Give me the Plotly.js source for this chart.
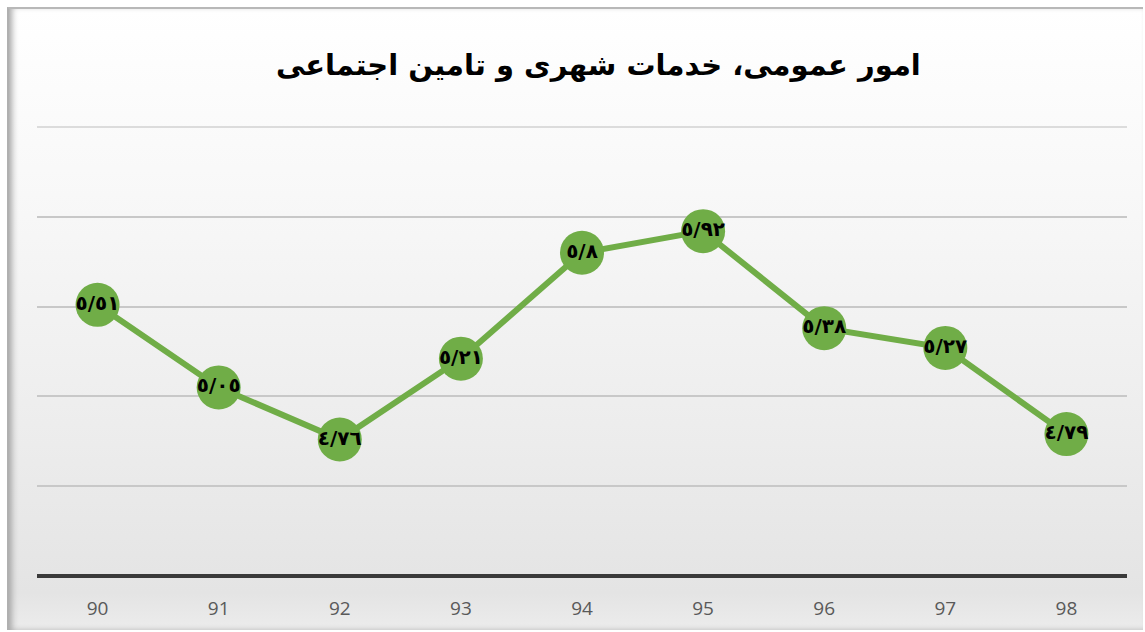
<!DOCTYPE html>
<html>
<head>
<meta charset="utf-8">
<script src="https://cdn.plot.ly/plotly-3.0.1.min.js"></script>
<style>
html,body{margin:0;padding:0;background:#ffffff;width:1145px;height:632px;overflow:hidden;}
#frame{position:absolute;left:7px;top:7px;width:1134px;height:621px;
  border-top:2px solid #b8b8b8;border-left:2px solid #b0b0b0;
  background:linear-gradient(to bottom,#ffffff 0%,#f8f8f8 30%,#ececec 70%,#e4e4e4 94%,#ececec 100%);
  box-shadow: inset 6px 0 6px -3px #a8a8a8, inset 0 -4px 4px -2px #d8d8d8;}
#chart{position:absolute;left:0;top:0;width:1145px;height:632px;}
</style>
</head>
<body>
<div id="frame"></div>
<div id="chart"></div>
<script>
var categories = ['90','91','92','93','94','95','96','97','98'];
var values = [5.51, 5.05, 4.76, 5.21, 5.8, 5.92, 5.38, 5.27, 4.79];
var titleText = 'امور عمومی، خدمات شهری و تامین اجتماعی';

var arabicDigits = ['٠','١','٢','٣','٤','٥','٦','٧','٨','٩'];
function toLabel(v){
  return String(v).split('').map(function(c){
    if (c === '.') return '/';
    var d = parseInt(c, 10);
    return isNaN(d) ? c : arabicDigits[d];
  }).join('');
}
var labels = values.map(toLabel);

var trace = {
  x: categories,
  y: values,
  type: 'scatter',
  mode: 'lines+markers+text',
  text: labels,
  textposition: 'middle center',
  textfont: {family: 'DejaVu Sans', size: 20, color: '#000000', weight: 'bold'},
  line: {color: '#70AD47', width: 6},
  marker: {color: '#70AD47', size: 44},
  hoverinfo: 'none',
  cliponaxis: false
};

var layout = {
  width: 1145,
  height: 632,
  margin: {l: 37, r: 18, t: 127, b: 56, pad: 0},
  paper_bgcolor: 'rgba(0,0,0,0)',
  plot_bgcolor: 'rgba(0,0,0,0)',
  showlegend: false,
  title: {
    text: '<b>' + titleText + '</b>',
    x: 0.515, xref: 'paper', xanchor: 'center',
    y: 0.897, yref: 'container', yanchor: 'middle',
    font: {family: 'DejaVu Sans', size: 29, color: '#000000'}
  },
  xaxis: {
    type: 'category',
    range: [-0.5, 8.5],
    showgrid: false,
    zeroline: false,
    showline: false,
    ticks: '',
    ticklabelstandoff: 19,
    tickfont: {family: 'Open Sans', size: 19, color: '#595959'},
    fixedrange: true
  },
  yaxis: {
    range: [4, 6.5],
    dtick: 0.5,
    tick0: 4,
    showgrid: true,
    gridcolor: '#c8c8c8',
    gridwidth: 2,
    zeroline: false,
    showline: false,
    showticklabels: false,
    ticks: '',
    fixedrange: true
  },
  shapes: [{
    type: 'line', xref: 'paper', yref: 'paper', layer: 'below',
    x0: 0, x1: 1, y0: 1, y1: 1,
    line: {color: '#dcdcdc', width: 2}
  }, {
    type: 'line', xref: 'paper', yref: 'paper',
    x0: 0, x1: 1, y0: 0, y1: 0,
    line: {color: '#3a3a3a', width: 4}
  }]
};

Plotly.newPlot('chart', [trace], layout, {displayModeBar: false, staticPlot: true});
</script>
</body>
</html>
